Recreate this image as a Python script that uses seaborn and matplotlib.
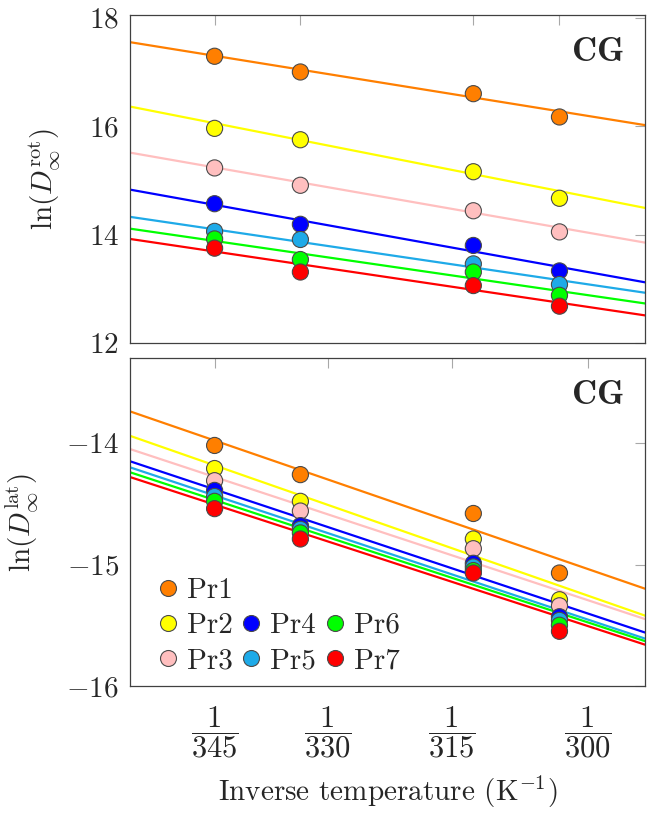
import numpy as np
import pandas as pd
import matplotlib
matplotlib.use("Agg")
import matplotlib.pyplot as plt
import seaborn as sns
from matplotlib.lines import Line2D

# ================= DATOS =================
# temperaturas simuladas (K) y marcas del eje (K)
temperaturas = [345, 333.5, 312.5, 303]
temps_ticks = [345, 330, 315, 300]
proteinas = ["Pr1", "Pr2", "Pr3", "Pr4", "Pr5", "Pr6", "Pr7"]
colores = ["#FF7F00", "#FFFF00", "#FFBFBF", "#0000FF", "#1EAAE8", "#00FF00", "#FF0000"]

# ln(D_rot) por proteina (una entrada por temperatura)
rot_pr1 = [17.29, 17.00, 16.60, 16.17]
rot_pr2 = [15.96, 15.75, 15.16, 14.67]
rot_pr3 = [15.23, 14.91, 14.44, 14.05]
rot_pr4 = [14.57, 14.19, 13.80, 13.33]
rot_pr5 = [14.06, 13.91, 13.46, 13.08]
rot_pr6 = [13.92, 13.54, 13.31, 12.88]
rot_pr7 = [13.75, 13.31, 13.06, 12.68]

# ln(D_lat) por proteina
lat_pr1 = [-14.02, -14.26, -14.58, -15.07]
lat_pr2 = [-14.21, -14.48, -14.79, -15.29]
lat_pr3 = [-14.31, -14.56, -14.87, -15.34]
lat_pr4 = [-14.39, -14.68, -14.99, -15.43]
lat_pr5 = [-14.44, -14.71, -15.02, -15.46]
lat_pr6 = [-14.48, -14.74, -15.05, -15.50]
lat_pr7 = [-14.54, -14.79, -15.07, -15.55]

# ajustes de Arrhenius: ln D = a + b / T
rot_pendiente = [-2550, -3117, -2767, -2850, -2333, -2300, -2350]
rot_ordenada = [24.69, 25.09, 23.26, 22.81, 20.86, 20.55, 20.50]
lat_pendiente = [-2433, -2467, -2333, -2350, -2350, -2317, -2300]
lat_ordenada = [-6.927, -7.033, -7.517, -7.57, -7.62, -7.753, -7.84]

X_LIM = (0.0028, 0.0034)
FS = 21


def tabla_puntos(series):
    filas = []
    for prot, vals in zip(proteinas, series):
        for T, v in zip(temperaturas, vals):
            filas.append({"Proteina": prot, "inv_T": 1.0 / T, "lnD": v})
    return pd.DataFrame(filas)


def tabla_ajustes(pendientes, ordenadas):
    filas = []
    for prot, b, a in zip(proteinas, pendientes, ordenadas):
        for x in X_LIM:
            filas.append({"Proteina": prot, "inv_T": x, "lnD": a + b * x})
    return pd.DataFrame(filas)


def dibujar_panel(ax, puntos, ajustes, ylim, yticks):
    pal = dict(zip(proteinas, colores))
    sns.lineplot(data=ajustes, x="inv_T", y="lnD", hue="Proteina", palette=pal,
                 linewidth=1.6, legend=False, ax=ax, zorder=2)
    sns.scatterplot(data=puntos, x="inv_T", y="lnD", hue="Proteina", palette=pal,
                    s=135, edgecolor="#4a4a4a", linewidth=0.8, legend=False,
                    ax=ax, zorder=3)
    ax.set_xlim(*X_LIM)
    ax.set_ylim(*ylim)
    ax.set_yticks(yticks)
    ax.set_yticklabels([r"$%d$" % v for v in yticks], fontsize=FS)
    ax.tick_params(direction="in", length=7.5, width=0.8, color="#a8a8a8",
                   top=True, right=True, pad=8)
    for sp in ax.spines.values():
        sp.set_color("#404040")
        sp.set_linewidth(0.9)
    ax.set_xlabel("")
    ax.text(0.958, 0.935, r"$\mathbf{CG}$", transform=ax.transAxes,
            ha="right", va="top", fontsize=25)


sns.set_theme(style="white")
plt.rcParams["font.family"] = ["cmr10", "DejaVu Serif"]
plt.rcParams["mathtext.fontset"] = "cm"
plt.rcParams["axes.formatter.use_mathtext"] = True

fig = plt.figure(figsize=(6.66, 8.23), dpi=100)
ax1 = fig.add_axes([0.1952, 0.5832, 0.7733, 0.3985])
ax2 = fig.add_axes([0.1952, 0.1665, 0.7733, 0.3985])

rot = [rot_pr1, rot_pr2, rot_pr3, rot_pr4, rot_pr5, rot_pr6, rot_pr7]
lat = [lat_pr1, lat_pr2, lat_pr3, lat_pr4, lat_pr5, lat_pr6, lat_pr7]

dibujar_panel(ax1, tabla_puntos(rot), tabla_ajustes(rot_pendiente, rot_ordenada),
              (12, 18.05), [12, 14, 16, 18])
dibujar_panel(ax2, tabla_puntos(lat), tabla_ajustes(lat_pendiente, lat_ordenada),
              (-16, -13.3), [-16, -15, -14])

# panel superior: marcas en las temperaturas simuladas, sin etiquetas
ax1.set_xticks([1.0 / T for T in temperaturas])
ax1.set_xticklabels([])
ax1.set_ylabel(r"$\ln(D_{\infty}^{\mathrm{rot}})$", fontsize=FS, labelpad=19)

# panel inferior: fracciones 1/T
ax2.set_xticks([1.0 / T for T in temps_ticks])
ax2.set_xticklabels([r"$\dfrac{1}{%d}$" % T for T in temps_ticks], fontsize=22)
ax2.tick_params(axis="x", pad=13)
ax2.set_ylabel(r"$\ln(D_{\infty}^{\mathrm{lat}})$", fontsize=FS, labelpad=19)
ax2.set_xlabel(r"Inverse temperature (K$^{-1}$)", fontsize=FS, labelpad=10)

# leyenda estilo pgfplots (3 columnas, primera fila solo Pr1)
def marca(c):
    return Line2D([], [], linestyle="none", marker="o", markersize=11.5,
                  markerfacecolor=c, markeredgecolor="#4a4a4a", markeredgewidth=0.8)

vacio = Line2D([], [], linestyle="none", marker=None, alpha=0)
idx = [0, 1, 2, None, 3, 4, None, 5, 6]
handles = [marca(colores[i]) if i is not None else vacio for i in idx]
labels = [proteinas[i] if i is not None else "" for i in idx]
ax2.legend(handles, labels, ncol=3, loc="lower left", bbox_to_anchor=(0.005, -0.035),
           frameon=False, fontsize=FS, handlelength=0.8, handletextpad=0.25,
           columnspacing=0.25, labelspacing=0.3, borderpad=0.3)

fig.savefig("out.png", dpi=100)
